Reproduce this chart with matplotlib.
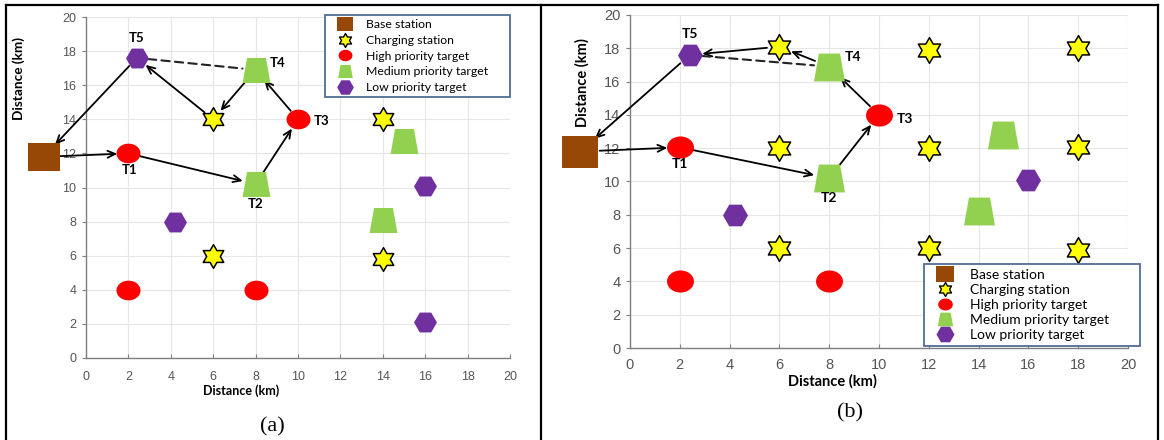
import numpy as np
import matplotlib
matplotlib.use("Agg")
import matplotlib.pyplot as plt
from matplotlib.path import Path
from matplotlib.lines import Line2D

W, H = 1164, 440

# ---- data: panel (a) ----
a_base_x, a_base_y = [-2.0], [11.8]
a_chg_x = [6, 14, 6, 14]
a_chg_y = [14, 14, 6, 5.8]
a_high_x = [2, 10, 2, 8]
a_high_y = [12, 14, 4, 4]
a_med_x = [8, 8, 15, 14]
a_med_y = [10.2, 16.9, 12.7, 8.1]
a_low_x = [2.4, 4.2, 16, 16]
a_low_y = [17.6, 8, 10.1, 2.1]
a_route_x = [-2.0, 2, 8, 10, 8, 6, 2.4, -2.0]
a_route_y = [11.8, 12, 10.2, 14, 16.9, 14, 17.6, 11.8]
a_route_kind = ["base", "high", "med", "high", "med", "chg", "low", "base"]

# ---- data: panel (b) ----
b_base_x, b_base_y = [-2.0], [11.8]
b_chg_x = [6, 12, 18, 6, 12, 18, 6, 12, 18]
b_chg_y = [18.1, 17.9, 18.0, 12, 12, 12.1, 6, 6, 5.9]
b_high_x = [2, 10, 2, 8]
b_high_y = [12.05, 14, 4, 4]
b_med_x = [8, 8, 15, 14]
b_med_y = [10.2, 16.9, 12.8, 8.2]
b_low_x = [2.4, 4.2, 16]
b_low_y = [17.6, 8, 10.1]
b_route_x = [-2.0, 2, 8, 10, 8, 6, 2.4, -2.0]
b_route_y = [11.8, 12.05, 10.2, 14, 16.9, 18.1, 17.6, 11.8]
b_route_kind = ["base", "high", "med", "high", "med", "chg", "low", "base"]

# target labels
t_names = ["T1", "T2", "T3", "T4", "T5"]
a_t_x = [2, 8, 10, 8, 2.4]
a_t_y = [12, 10.2, 14, 16.9, 17.6]
b_t_x = [2, 8, 10, 8, 2.4]
b_t_y = [12.05, 10.2, 14, 16.9, 17.6]

legend_labels = ["Base station", "Charging station", "High priority target",
                 "Medium priority target", "Low priority target"]

COL = {"base": "#974806", "chg": "#FFFF00", "high": "#FF0000",
       "med": "#92D050", "low": "#7030A0"}


def closed(v):
    v = np.asarray(v, float)
    v = np.vstack([v, v[:1]])
    return Path(v, closed=True)


t = np.linspace(0, 2 * np.pi, 48, endpoint=False)
ELLIPSE = closed(np.c_[np.cos(t), 0.82 * np.sin(t)])
RECT = closed([(-1, -0.88), (1, -0.88), (1, 0.88), (-1, 0.88)])
TRAP = closed([(-1, -0.9), (1, -0.9), (0.68, 0.9), (-0.68, 0.9)])
ang = np.deg2rad(90 + 30 * np.arange(12))
rad = np.where(np.arange(12) % 2 == 0, 1.0, 1 / np.sqrt(3))
STAR = closed(np.c_[rad * np.cos(ang), rad * np.sin(ang)])
MARK = {"base": RECT, "chg": STAR, "high": ELLIPSE, "med": TRAP, "low": "H"}
LABFONT = ["Lato", "DejaVu Sans"]

plt.rcParams["font.family"] = ["Liberation Sans", "DejaVu Sans"]
fig = plt.figure(figsize=(W / 100, H / 100), dpi=100)


def px_rect(l, t_, r, b):
    return [l / W, 1 - b / H, (r - l) / W, (b - t_) / H]


def draw_panel(ax, d, sz, fs, shrink):
    ax.set_xlim(0, 20)
    ax.set_ylim(0, 20)
    ax.set_xticks(range(0, 21, 2))
    ax.set_yticks(range(0, 21, 2))
    ax.grid(color="#E6E6E6", lw=0.8, zorder=0)
    for s in ("top", "right"):
        ax.spines[s].set_visible(False)
    for s in ("left", "bottom"):
        ax.spines[s].set_color("#7F7F7F")
        ax.spines[s].set_linewidth(1.0)
    ax.tick_params(axis="x", direction="in", length=3, color="#7F7F7F",
                   labelsize=fs["tick"], labelcolor="#555555", pad=fs["xpad"])
    ax.tick_params(axis="y", direction="out", length=3, color="#7F7F7F",
                   labelsize=fs["tick"], labelcolor="#555555", pad=4)

    # route arrows
    rx, ry, rk = d["route"]
    for i in range(len(rx) - 1):
        ax.annotate("", xy=(rx[i + 1], ry[i + 1]), xytext=(rx[i], ry[i]),
                    arrowprops=dict(arrowstyle="->,head_length=0.55,head_width=0.25",
                                    color="black", lw=1.3,
                                    shrinkA=shrink[rk[i]], shrinkB=shrink[rk[i + 1]]),
                    annotation_clip=False, zorder=4)
    # dashed T5 - T4 link
    ax.annotate("", xy=(rx[4], ry[4]), xytext=(rx[6], ry[6]),
                arrowprops=dict(arrowstyle="-", color="#222222", lw=1.5,
                                linestyle=(0, (4, 2.5)),
                                shrinkA=shrink["low"], shrinkB=shrink["med"]),
                zorder=4)

    for k in ("chg", "high", "med", "low", "base"):
        xs, ys = d[k]
        ax.plot(xs, ys, ls="none", marker=MARK[k], ms=sz[k], mfc=COL[k],
                mec="black" if k == "chg" else COL[k],
                mew=1.1 if k == "chg" else 0, clip_on=False, zorder=5)

    tx, ty, offs = d["tlab"]
    for n, x, y, (dx, dy) in zip(t_names, tx, ty, offs):
        ax.annotate(n, (x, y), xytext=(dx, dy), textcoords="offset points",
                    ha="center", va="center", fontsize=fs["t"],
                    fontweight="bold", family=LABFONT, zorder=6)


def axis_labels(ax, xsize, ysize, xpos, ypos):
    ax.set_xlabel("Distance (km)", fontsize=xsize, fontweight="bold", family=LABFONT)
    ax.set_ylabel("Distance (km)", fontsize=ysize, fontweight="bold", family=LABFONT)
    ax.xaxis.set_label_coords(*xpos)
    ax.yaxis.set_label_coords(*ypos)
    ax.xaxis.label.set_va("center")
    ax.yaxis.label.set_va("center")


def legend(ax, box, lsz, fs, spacing, hlen, tpad):
    # box = (left, top, right) in pixels
    l, tp, r = box
    hs = []
    for k, s in zip(("base", "chg", "high", "med", "low"), lsz):
        hs.append(Line2D([], [], ls="none", marker=MARK[k], ms=s, mfc=COL[k],
                         mec="black" if k == "chg" else COL[k],
                         mew=1.0 if k == "chg" else 0))
    lg = ax.legend(hs, legend_labels, loc="upper left", mode="expand",
                   bbox_to_anchor=(l / W, 1 - tp / H - 0.01, (r - l) / W, 0.01),
                   bbox_transform=fig.transFigure,
                   borderaxespad=0, fancybox=False, framealpha=1,
                   prop={"family": LABFONT, "size": fs},
                   labelspacing=spacing, handlelength=hlen, handletextpad=tpad,
                   borderpad=0.35)
    lg.get_frame().set_edgecolor("#4F6D94")
    lg.get_frame().set_linewidth(1.3)
    lg.set_zorder(7)


# ---- panel (a) ----
axa = fig.add_axes(px_rect(86, 17, 510, 358))
da = {"route": (a_route_x, a_route_y, a_route_kind),
      "base": (a_base_x, a_base_y), "chg": (a_chg_x, a_chg_y),
      "high": (a_high_x, a_high_y), "med": (a_med_x, a_med_y),
      "low": (a_low_x, a_low_y),
      "tlab": (a_t_x, a_t_y, [(1, -12), (0, -14), (17, -1.5), (16, 5), (0, 14)])}
draw_panel(axa, da, {"base": 23, "chg": 17, "high": 17.3, "med": 20, "low": 16.5},
           {"tick": 9, "t": 9.5, "xpad": 9},
           {"base": 12, "high": 8, "med": 9.5, "chg": 8, "low": 8})
axis_labels(axa, 9, 9.8, (0.366, -0.097), (-0.158, 0.82))
legend(axa, (325, 15, 510), [12, 10, 10, 10.5, 12], 8.8, 0.38, 2.6, 0.4)

# ---- panel (b) ----
axb = fig.add_axes(px_rect(630, 15, 1128, 348))
db = {"route": (b_route_x, b_route_y, b_route_kind),
      "base": (b_base_x, b_base_y), "chg": (b_chg_x, b_chg_y),
      "high": (b_high_x, b_high_y), "med": (b_med_x, b_med_y),
      "low": (b_low_x, b_low_y),
      "tlab": (b_t_x, b_t_y, [(0, -12), (0, -14), (19, -3), (17, 7), (0, 15)])}
draw_panel(axb, db, {"base": 26, "chg": 18.5, "high": 19.4, "med": 22.3, "low": 18},
           {"tick": 10.5, "t": 10, "xpad": 7},
           {"base": 14, "high": 9, "med": 11, "chg": 9, "low": 9})
axis_labels(axb, 10.5, 10.5, (0.407, -0.10), (-0.095, 0.796))
legend(axb, (924, 264, 1140), [13, 10, 10.5, 11, 13], 10, 0.22, 2.3, 0.65)

# ---- sub-captions and table frame ----
fig.text(272 / W, 1 - 427 / H, "(a)", ha="center", va="center", fontsize=16,
         family="Liberation Serif")
fig.text(850 / W, 1 - 413 / H, "(b)", ha="center", va="center", fontsize=16,
         family="Liberation Serif")
for xs, ys in [((6, 1158), (5, 5)), ((6, 6), (5, 440)),
               ((541, 541), (5, 440)), ((1158, 1158), (5, 440))]:
    fig.add_artist(Line2D([x / W for x in xs], [1 - y / H for y in ys],
                          color="black", lw=1.6, transform=fig.transFigure))

fig.savefig("out.png", dpi=100)
